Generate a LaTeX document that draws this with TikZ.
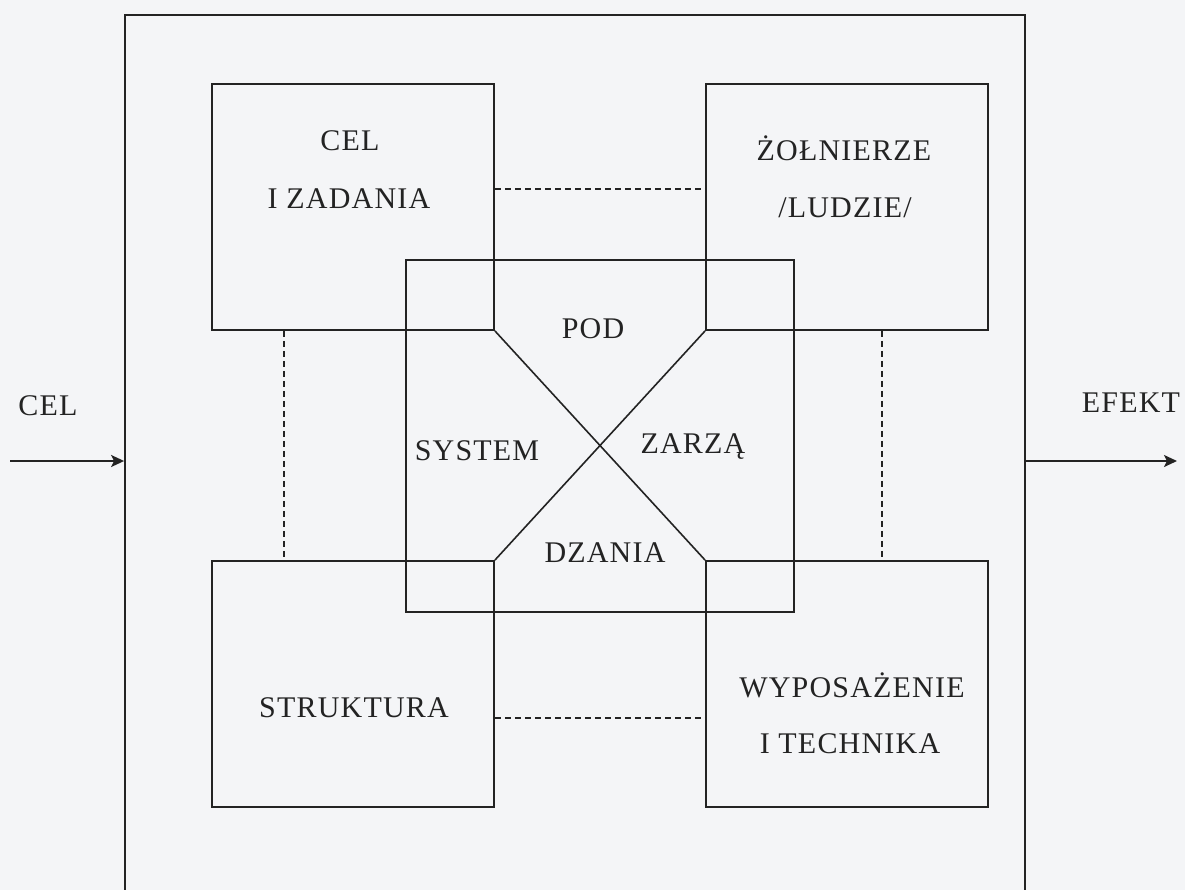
\documentclass[tikz,border=0pt]{standalone}
\usepackage{fontspec}
\setmainfont{Liberation Serif}[LetterSpace=4]
\usepackage{tikz}
\usetikzlibrary{arrows,arrows.meta}
\definecolor{paper}{RGB}{244,245,247}
\definecolor{ink}{RGB}{35,35,35}

\begin{document}
\begin{tikzpicture}
[
x=0.5pt, y=-0.5pt,
box/.style={rectangle, draw=ink, line width=0.9pt, inner sep=0pt, minimum width=141pt, minimum height=123pt},
core/.style={rectangle, draw=ink, line width=0.9pt, inner sep=0pt, minimum width=194pt, minimum height=176pt},
txt/.style={text=ink, font=\fontsize{15}{18}\selectfont, inner sep=0pt, anchor=base},
cross/.style={draw=ink, line width=0.8pt},
link/.style={draw=ink, line width=0.7pt, dash pattern=on 3pt off 2pt},
flow/.style={draw=ink, line width=1pt, -{Stealth[length=6.5pt,width=6pt,inset=1.5pt]}}
]
\fill[paper] (0,0) rectangle (1185,890);
\useasboundingbox (0,0) rectangle (1185,890);
\clip (0,0) rectangle (1185,890);

%Nodes
\node[rectangle, draw=ink, line width=0.9pt, minimum width=450pt, minimum height=445pt] (outer) at (575,460) {};
\node[core]  (sys)     at (600,436)  {};
\node[box]   (cel)     at (353,207)  {};
\node[box]   (ludzie)  at (847,207)  {};
\node[box]   (strukt)  at (353,684)  {};
\node[box]   (tech)    at (847,684)  {};

\node[txt] (celA)    at (350,150) {CEL};
\node[txt] (celB)    at (349,208) {I ZADANIA};
\node[txt] (ludzieA) at (844,160) {ŻOŁNIERZE};
\node[txt] (ludzieB) at (845,217) {/LUDZIE/};
\node[txt] (struktA) at (354,717) {STRUKTURA};
\node[txt] (techA)   at (852,697) {WYPOSAŻENIE};
\node[txt] (techB)   at (850,753) {I TECHNIKA};

\node[txt] (pod)    at (593,338) {POD};
\node[txt] (system) at (477,460) {SYSTEM};
\node[txt] (zarza)  at (693,453) {ZARZĄ};
\node[txt] (dzania) at (605,562) {DZANIA};

\node[txt] (celin)  at (48,415)   {CEL};
\node[txt] (efekt)  at (1131,412) {EFEKT};
\coordinate (in)  at (10,461);
\coordinate (out) at (1177,461);

%Lines
\draw[cross] (cel.south east) -- (tech.north west);
\draw[cross] (ludzie.south west) -- (strukt.north east);

\draw[link] (cel.east |- 0,189) -- (ludzie.west |- 0,189);
\draw[link] (strukt.east |- 0,718) -- (tech.west |- 0,718);
\draw[link] (cel.south -| 284,0) -- (strukt.north -| 284,0);
\draw[link] (ludzie.south -| 882,0) -- (tech.north -| 882,0);

\draw[flow] (in) -- (in -| outer.west);
\draw[flow] (out -| outer.east) -- (out);

\end{tikzpicture}
\end{document}
